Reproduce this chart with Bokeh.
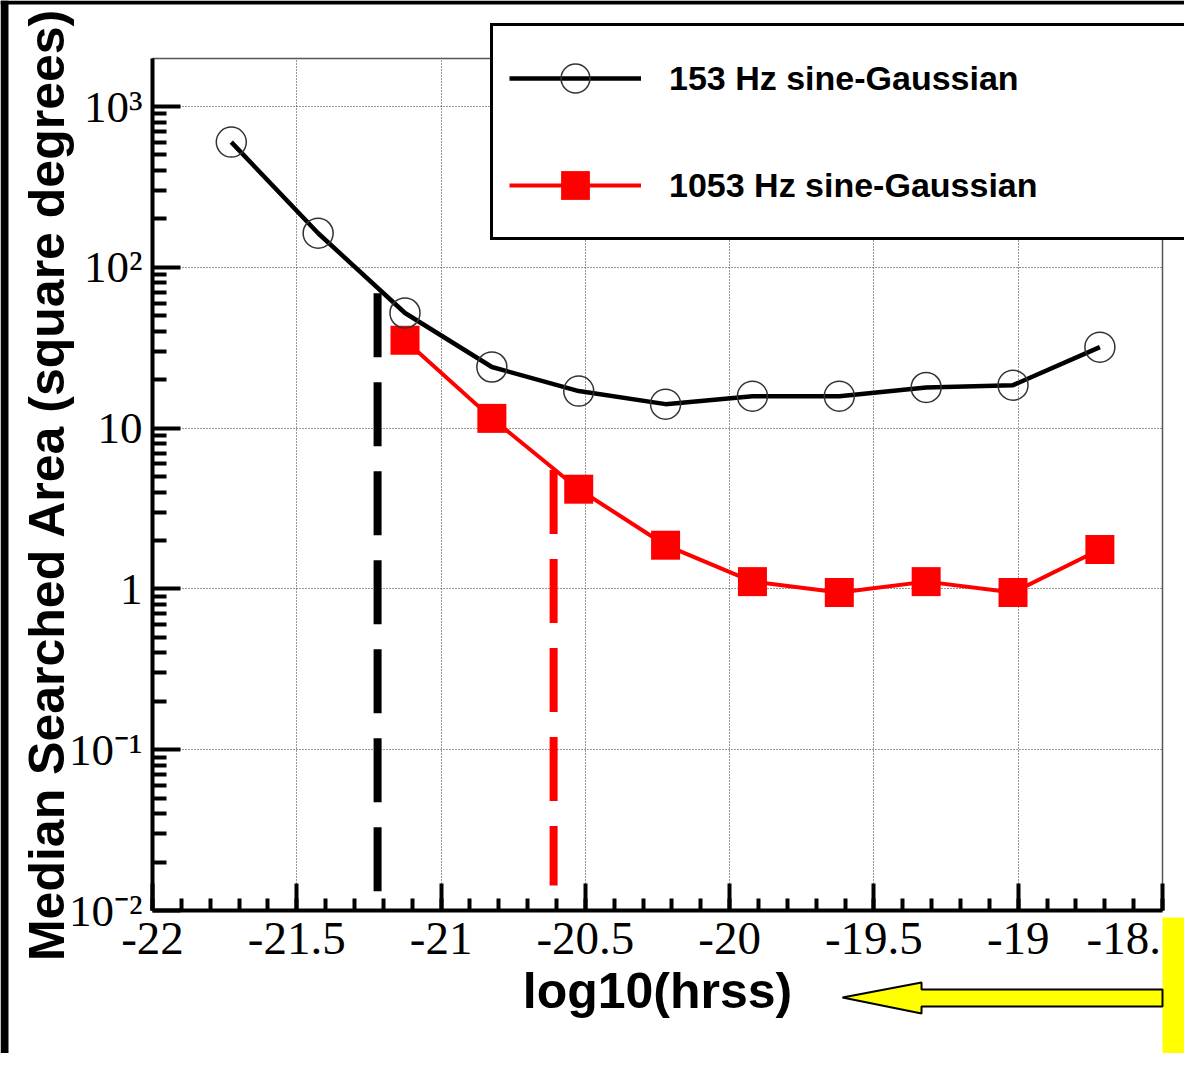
import math
from bokeh.plotting import figure
from bokeh.layouts import column
from bokeh.models import (FixedTicker, CustomJSTickFormatter, Legend, LegendItem,
                          BoxAnnotation, PolyAnnotation)
from bokeh.embed import file_html
from bokeh.resources import INLINE

# ---- data ----
log_hrss_153 = [-21.727, -21.426, -21.125, -20.824, -20.523, -20.222,
                -19.921, -19.620, -19.319, -19.018, -18.717]
area_153 = [601, 163, 52, 24, 17.0, 14.1, 15.8, 15.8, 17.9, 18.5, 31.9]

log_hrss_1053 = [-21.125, -20.824, -20.523, -20.222, -19.921, -19.620,
                 -19.319, -19.018, -18.717]
area_1053 = [35.2, 11.5, 4.17, 1.87, 1.11, 0.95, 1.11, 0.95, 1.76]

# vertical dashed threshold markers: x, top, bottom
thr_153_x, thr_153_top, thr_153_bottom = -21.22, 69.0, 0.0092
thr_1053_x, thr_1053_top, thr_1053_bottom = -20.61, 5.5, 0.0143

# plot box (axis extents)
x_min, x_max = -22.0, -18.5
y_min, y_max = 0.01, 1990.0

x_ticks = [-22, -21.5, -21, -20.5, -20, -19.5, -19, -18.5]
x_tick_labels = ["-22", "-21.5", "-21", "-20.5", "-20", "-19.5", "-19", "-18.5"]
x_minor_ticks = [round(-22 + 0.1 * i, 1) for i in range(36)]
y_ticks = [0.01, 0.1, 1, 10, 100, 1000]
y_tick_labels = ["10\u207b\u00b2", "10\u207b\u00b9", "1", "10", "10\u00b2", "10\u00b3"]
y_minor_ticks = [m * 10.0 ** e for e in range(-2, 3) for m in range(2, 10)]

labels = ["153 Hz sine-Gaussian", "1053 Hz sine-Gaussian"]

# decorative arrow / box (data units, below the axis)
arrow_xs = [-19.609, -19.335, -19.335, -18.5, -18.5, -19.335, -19.335]
arrow_ys = [10 ** -2.541, 10 ** -2.448, 10 ** -2.492, 10 ** -2.492,
            10 ** -2.597, 10 ** -2.597, 10 ** -2.641]
box_top = 10 ** -2.0436

# ---- layout (pixels) ----
W, H = 1184, 1053
FL, FR, FT, FB = 152, 1162, 58, 910   # frame edges of the main chart

# ================= main chart =================
p = figure(width=W, height=H, x_range=(x_min, x_max), y_range=(y_min, y_max),
           y_axis_type="log", output_backend="svg", toolbar_location=None,
           min_border_left=FL, min_border_right=W - FR, min_border_top=FT,
           min_border_bottom=H - FB)
p.background_fill_color = "white"
p.border_fill_color = "white"
p.outline_line_color = "#555555"
p.outline_line_width = 1.5

xa = p.xaxis[0]
xa.ticker = FixedTicker(ticks=x_ticks, minor_ticks=x_minor_ticks)
xa.formatter = CustomJSTickFormatter(args=dict(vals=x_ticks, labs=x_tick_labels), code="""
    for (let i = 0; i < vals.length; i++) {
        if (Math.abs(tick - vals[i]) < 1e-6) return labs[i];
    }
    return "";
""")
xa.axis_line_width = 4
xa.axis_line_color = "black"
xa.major_tick_in = 27
xa.major_tick_out = 0
xa.minor_tick_in = 12
xa.minor_tick_out = 0
xa.major_tick_line_width = 4
xa.minor_tick_line_width = 4
xa.major_tick_line_color = "black"
xa.minor_tick_line_color = "black"
xa.major_label_text_font = "Liberation Serif"
xa.major_label_text_font_size = "47px"
xa.major_label_text_color = "black"
xa.major_label_standoff = 12
xa.axis_label = "log10(hrss)"
xa.axis_label_text_font = "Liberation Sans"
xa.axis_label_text_font_style = "bold"
xa.axis_label_text_font_size = "50px"
xa.axis_label_text_color = "black"
xa.axis_label_standoff = 6

ya = p.yaxis[0]
ya.ticker = FixedTicker(ticks=y_ticks, minor_ticks=y_minor_ticks)
ya.formatter = CustomJSTickFormatter(args=dict(vals=y_ticks, labs=y_tick_labels), code="""
    for (let i = 0; i < vals.length; i++) {
        if (Math.abs(Math.log10(tick) - Math.log10(vals[i])) < 1e-6) return labs[i];
    }
    return "";
""")
ya.axis_line_width = 4
ya.axis_line_color = "black"
ya.major_tick_in = 28
ya.major_tick_out = 0
ya.minor_tick_in = 14
ya.minor_tick_out = 0
ya.major_tick_line_width = 4
ya.minor_tick_line_width = 4
ya.major_label_text_font = "Liberation Serif"
ya.major_label_text_font_size = "45px"
ya.major_label_text_color = "black"
ya.major_label_standoff = 10
ya.axis_label = "Median Searched Area (square degrees)"
ya.axis_label_text_font = "Liberation Sans"
ya.axis_label_text_font_style = "bold"
ya.axis_label_text_font_size = "50px"
ya.axis_label_text_color = "black"
ya.axis_label_standoff = -9

for g in (p.xgrid[0], p.ygrid[0]):
    g.grid_line_color = "#333333"
    g.grid_line_width = 1
    g.grid_line_dash = "1 2"

# threshold dashed lines
p.segment(x0=[thr_153_x], y0=[thr_153_top], x1=[thr_153_x], y1=[thr_153_bottom],
          line_color="black", line_width=8, line_dash="64 25")
p.segment(x0=[thr_1053_x], y0=[thr_1053_top], x1=[thr_1053_x], y1=[thr_1053_bottom],
          line_color="red", line_width=8, line_dash="64 25")

# series
p.line(log_hrss_1053, area_1053, line_color="red", line_width=4)
p.scatter(log_hrss_1053, area_1053, marker="square", size=29,
          fill_color="red", line_color=None)
p.line(log_hrss_153, area_153, line_color="black", line_width=4.5)
p.scatter(log_hrss_153, area_153, marker="circle", size=30,
          fill_color=None, line_color="#333333", line_width=1.5)

# ============ transparent overlay: legend, arrow, box ============
# same data mapping as the main frame, but spanning the whole canvas
ppu = (FR - FL) / (x_max - x_min)
ppd = (FB - FT) / (math.log10(y_max) - math.log10(y_min))
ox_range = (x_min - FL / ppu, x_min + (W - FL) / ppu)
oy_range = (10 ** (math.log10(y_min) - (H - FB) / ppd),
            10 ** (math.log10(y_max) + FT / ppd))

o = figure(width=W, height=H, frame_width=W, frame_height=H,
           x_range=ox_range, y_range=oy_range, y_axis_type="log",
           output_backend="svg", toolbar_location=None,
           x_axis_location=None, y_axis_location=None,
           min_border=0, min_border_left=0, min_border_right=0,
           min_border_top=0, min_border_bottom=0)
for fig in (p, o):
    try:
        fig.frame_align = False
    except Exception:
        pass
o.background_fill_color = None
o.border_fill_color = None
o.outline_line_color = None
o.xgrid.visible = False
o.ygrid.visible = False
o.margin = (-H, 0, 0, 0)

# legend keys (one undefined point each, so nothing is drawn in the plot area)
nan = float("nan")
lg1 = o.line(x=[nan], y=[nan], line_color="black", line_width=4.5)
mk1 = o.scatter(x=[nan], y=[nan], marker="circle", size=30, fill_color=None,
                line_color="#333333", line_width=1.5)
lg2 = o.line(x=[nan], y=[nan], line_color="red", line_width=4)
mk2 = o.scatter(x=[nan], y=[nan], marker="square", size=29, fill_color="red",
                line_color=None)

legend = Legend(items=[LegendItem(label=labels[0], renderers=[lg1, mk1]),
                       LegendItem(label=labels[1], renderers=[lg2, mk2])],
                location=(490, H - 240), margin=0, padding=16, spacing=35,
                glyph_width=132, glyph_height=72, label_standoff=28,
                label_width=500, label_height=72,
                label_text_font="Liberation Sans", label_text_font_style="bold",
                label_text_font_size="34px", label_text_color="black",
                border_line_color="black", border_line_width=3, border_line_alpha=1.0,
                background_fill_color="white", background_fill_alpha=1.0)
o.add_layout(legend)

o.add_layout(BoxAnnotation(left=x_max, bottom=None, right=None, top=box_top,
                           fill_color="#FFFF00", fill_alpha=1.0, line_color=None))
o.add_layout(PolyAnnotation(xs=arrow_xs, ys=arrow_ys, fill_color="#FFFF00",
                            fill_alpha=1.0, line_color="black", line_alpha=1.0,
                            line_width=2))

# dark edge strips of the original picture (left 8 px, top 4 px)
o.add_layout(BoxAnnotation(left=None, right=ox_range[0] + 8 / ppu, top=None, bottom=None,
                           fill_color="black", fill_alpha=1.0, line_color=None))
o.add_layout(BoxAnnotation(left=None, right=None, top=None,
                           bottom=10 ** (math.log10(oy_range[1]) - 4 / ppd),
                           fill_color="black", fill_alpha=1.0, line_color=None))

layout = column(p, o)
open("out.html", "w").write(file_html(layout, INLINE))
